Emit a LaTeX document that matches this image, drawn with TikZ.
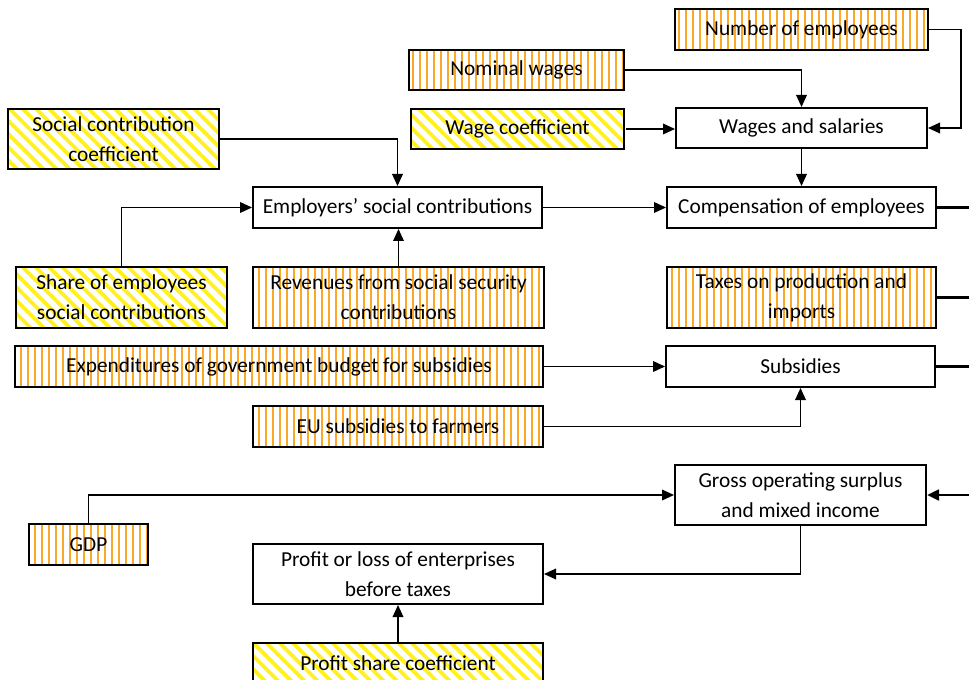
\documentclass[tikz,border=0pt]{standalone}
\usepackage{fontspec}
\setmainfont{Carlito}
\usetikzlibrary{arrows.meta,patterns.meta}

\definecolor{stripeorange}{RGB}{250,168,40}
\definecolor{stripeyellow}{RGB}{255,240,30}

\tikzset{
  base/.style={draw=black, line width=1.5pt, inner sep=0pt, align=center,
    font=\fontsize{16pt}{22.5pt}\selectfont},
  plainbox/.style={base, fill=white},
  datasrc/.style={base, pattern={Lines[angle=90, distance=5.25pt, line width=1.5pt]},
    pattern color=stripeorange},
  coefbox/.style={base, pattern={Lines[angle=-45, distance=7pt, line width=2.8pt]},
    pattern color=stripeyellow},
  conn/.style={line width=1pt, -{Triangle[length=9pt,width=8pt]}},
  bus/.style={line width=2pt},
  busin/.style={line width=2pt, -{Triangle[length=9pt,width=8pt]}},
}

\begin{document}
\begin{tikzpicture}[x=0.75pt, y=-0.75pt]
\useasboundingbox (0,0) rectangle (969,680);
\clip (0,0) rectangle (969,680);

% top block: wages
\node[datasrc, minimum width=253*0.75pt, minimum height=41*0.75pt] (numemp) at (801.5,29.5) {Number of employees};
\node[datasrc, minimum width=215*0.75pt, minimum height=40*0.75pt] (nomw) at (516.5,70) {Nominal wages};
\node[coefbox, minimum width=213*0.75pt, minimum height=40*0.75pt] (wagec) at (517.5,129) {Wage coefficient};
\node[plainbox, minimum width=251*0.75pt, minimum height=40*0.75pt] (wages) at (801.5,128) {Wages and salaries};

% social contributions
\node[coefbox, minimum width=211*0.75pt, minimum height=60*0.75pt] (sccoef) at (113.5,139) {Social contribution\\coefficient};
\node[plainbox, minimum width=289*0.75pt, minimum height=41*0.75pt] (employers) at (397.5,207.5) {Employers’ social contributions};
\node[plainbox, minimum width=269*0.75pt, minimum height=41*0.75pt] (comp) at (801.5,207.5) {Compensation of employees};
\node[coefbox, minimum width=211*0.75pt, minimum height=61*0.75pt] (share) at (121.5,297.5) {Share of employees\\social contributions};
\node[datasrc, minimum width=291*0.75pt, minimum height=61*0.75pt] (revenues) at (398.5,297.5) {Revenues from social security\\contributions};
\node[datasrc, minimum width=269*0.75pt, minimum height=61*0.75pt] (taxes) at (801.5,297.5) {Taxes on production and\\imports};

% subsidies
\node[datasrc, minimum width=528*0.75pt, minimum height=41*0.75pt] (expend) at (279,366.5) {Expenditures of government budget for subsidies};
\node[plainbox, minimum width=269*0.75pt, minimum height=41*0.75pt] (subs) at (800.5,366.5) {Subsidies};
\node[datasrc, minimum width=290*0.75pt, minimum height=41*0.75pt] (eu) at (398,426.5) {EU subsidies to farmers};

% operating surplus and profits
\node[plainbox, minimum width=251*0.75pt, minimum height=60*0.75pt] (gross) at (800.5,495) {Gross operating surplus\\and mixed income};
\node[datasrc, minimum width=119*0.75pt, minimum height=41*0.75pt] (gdp) at (88.5,544.5) {GDP};
\node[plainbox, minimum width=290*0.75pt, minimum height=60*0.75pt] (profit) at (398,574) {Profit or loss of enterprises\\before taxes};
\node[coefbox, minimum width=290*0.75pt, minimum height=41*0.75pt] (pshare) at (398,663.5) {Profit share coefficient};

% right-hand bus, running just past the right edge
\coordinate (busx) at (975,0);

% connectors
\draw[conn] (numemp.east) -- ++(32,0) |- (wages.east);
\draw[conn] (nomw.east) -| (wages.north);
\draw[conn] (wagec.east) -- (wagec.east -| wages.west);
\draw[conn] (wages.south) -- (comp.north);
\draw[conn] (sccoef.east) -| (employers.north);
\draw[conn] (share.north) |- (employers.west);
\draw[conn] (revenues.north) -- (revenues.north |- employers.south);
\draw[conn] (employers.east) -- (comp.west);
\draw[conn] (expend.east) -- (subs.west);
\draw[conn] (eu.east) -| (subs.south);
\draw[conn] (gdp.north) |- (gross.west);
\draw[conn] (gross.south) |- (profit.east);
\draw[conn] (pshare.north) -- (profit.south);

\draw[bus] (comp.east) -- (comp.east -| busx);
\draw[bus] (taxes.east) -- (taxes.east -| busx);
\draw[bus] (subs.east) -- (subs.east -| busx);
\draw[busin] (gross.east -| busx) -- (gross.east);
\end{tikzpicture}
\end{document}
